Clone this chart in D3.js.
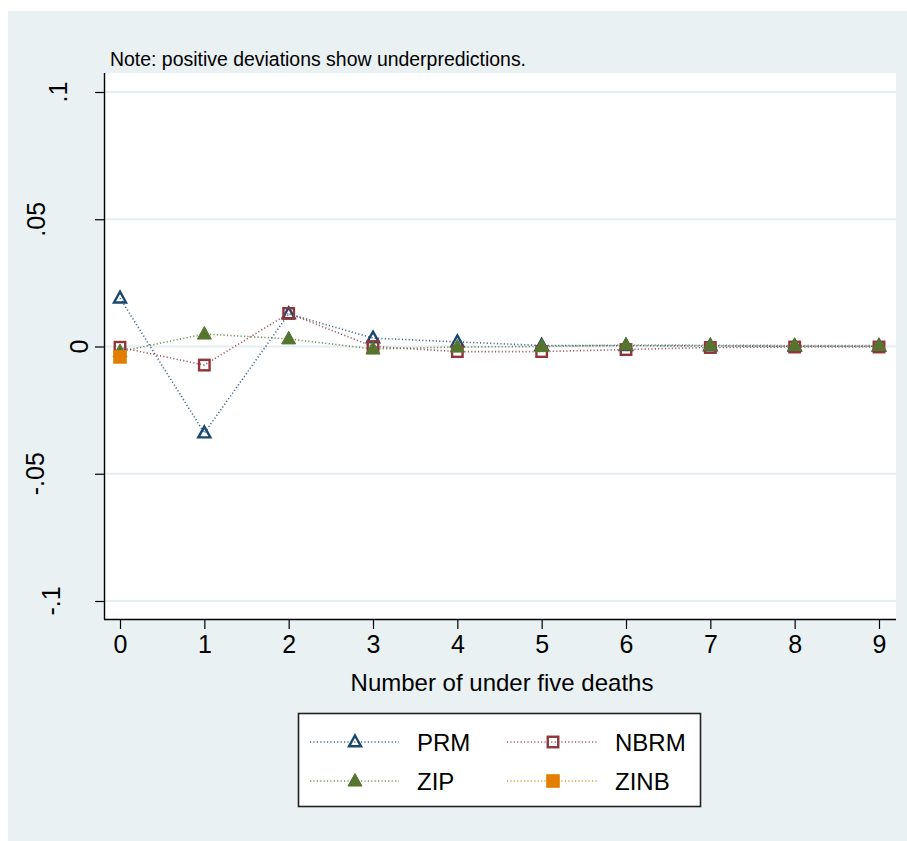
<!DOCTYPE html>
<html>
<head>
<meta charset="utf-8">
<script src="https://cdn.jsdelivr.net/npm/d3@7"></script>
<style>
  html, body { margin: 0; padding: 0; background: #ffffff; }
  svg { display: block; font-family: "Liberation Sans", Arial, Helvetica, sans-serif; }
</style>
</head>
<body>
<svg id="chart" width="907" height="841"></svg>
<script>
// ---------------- data ----------------
const counts = [0, 1, 2, 3, 4, 5, 6, 7, 8, 9];
const prm  = [0.0190, -0.0340, 0.0128, 0.0033, 0.0018, 0.0004, 0.0003, 0.0002, 0.0001, 0.0001];
const nbrm = [-0.0003, -0.0073, 0.0130, 0.0000, -0.0020, -0.0020, -0.0012, -0.0004, -0.0002, -0.0002];
const zip  = [-0.0020, 0.0049, 0.0030, -0.0010, -0.0002, 0.0000, 0.0006, 0.0005, 0.0004, 0.0004];
const zinb = [-0.0041, null, null, null, null, null, null, null, null, null];
const seriesNames = ["PRM", "NBRM", "ZIP", "ZINB"];
const yTickValues = [-0.1, -0.05, 0, 0.05, 0.1];
const yTickLabels = ["-.1", "-.05", "0", ".05", ".1"];
const xTickValues = [0, 1, 2, 3, 4, 5, 6, 7, 8, 9];
const xTitle = "Number of under five deaths";
const noteText = "Note: positive deviations show underpredictions.";

// ---------------- layout / style ----------------
const W = 907, H = 841;
const bg = "#e9f1f3";
const plot = { left: 104, right: 896, top: 73, bottom: 619 };
const font = "Liberation Sans, Arial, Helvetica, sans-serif";
// baseline x of each rotated y tick label
const yLabelBaseline = { "-.1": 60, "-.05": 44, "0": 88, ".05": 45, ".1": 67 };

const styles = {
  PRM:  { color: "#1a476f", marker: "triangle", fill: "none" },
  NBRM: { color: "#90353b", marker: "square",   fill: "none" },
  ZIP:  { color: "#55752f", marker: "triangle", fill: "#55752f" },
  ZINB: { color: "#e37e00", marker: "square",   fill: "#e37e00" }
};
const seriesValues = { PRM: prm, NBRM: nbrm, ZIP: zip, ZINB: zinb };

const svg = d3.select("#chart");

// background
svg.append("rect").attr("x", 8).attr("y", 11).attr("width", W - 8).attr("height", H - 11).attr("fill", bg);
svg.append("rect").attr("x", plot.left).attr("y", plot.top)
  .attr("width", plot.right - plot.left).attr("height", plot.bottom - plot.top).attr("fill", "#ffffff");

const x = d3.scaleLinear().domain([0, 9]).range([120, 879]);
const y = d3.scaleLinear().domain([-0.1, 0.1]).range([601, 92]);

// gridlines
svg.append("g").selectAll("line").data(yTickValues).join("line")
  .attr("x1", plot.left).attr("x2", plot.right)
  .attr("y1", d => y(d)).attr("y2", d => y(d))
  .attr("stroke", "#e6eef1").attr("stroke-width", 2);

// y axis
const yAxis = d3.axisLeft(y).tickValues(yTickValues).tickSize(9).tickFormat("");
const gy = svg.append("g").attr("transform", `translate(${plot.left},0)`).call(yAxis);
gy.select(".domain").attr("d", `M0.5,${plot.top}V${plot.bottom + 0.5}`).attr("stroke", "#000").attr("stroke-width", 1.4);
gy.selectAll(".tick line").attr("stroke", "#000").attr("stroke-width", 1.2);
svg.append("g").selectAll("text").data(yTickValues).join("text")
  .attr("transform", (d, i) => `translate(${yLabelBaseline[yTickLabels[i]]},${y(d)}) rotate(-90)`)
  .attr("text-anchor", "middle")
  .attr("font-size", 25).attr("font-family", font).attr("fill", "#000")
  .text((d, i) => yTickLabels[i]);

// x axis
const xAxis = d3.axisBottom(x).tickValues(xTickValues).tickSize(10).tickPadding(6).tickFormat(d3.format("d"));
const gx = svg.append("g").attr("transform", `translate(0,${plot.bottom})`).call(xAxis);
gx.select(".domain").attr("d", `M${plot.left},0.5H${plot.right}`).attr("stroke", "#000").attr("stroke-width", 1.4);
gx.selectAll(".tick line").attr("stroke", "#000").attr("stroke-width", 1.2);
gx.selectAll(".tick text").attr("font-size", 25).attr("font-family", font).attr("fill", "#000")
  .attr("dy", "0.72em");

// axis title
svg.append("text").attr("x", (plot.left + plot.right) / 2 + 2).attr("y", 691)
  .attr("text-anchor", "middle").attr("font-size", 24).attr("font-family", font).text(xTitle);

// note
svg.append("text").attr("x", 110).attr("y", 66)
  .attr("font-size", 20.5).attr("font-family", font)
  .attr("textLength", 416).attr("lengthAdjust", "spacingAndGlyphs").text(noteText);

// marker drawing
function drawMarker(g, type, color, fill) {
  if (type === "triangle") {
    const s = fill === "none" ? 12 : 14;
    const h = s * 0.9;
    g.append("path")
      .attr("d", `M0,${-h * 0.6}L${s / 2},${h * 0.4}L${-s / 2},${h * 0.4}Z`)
      .attr("fill", fill).attr("stroke", color).attr("stroke-width", fill === "none" ? 2.4 : 1)
      .attr("stroke-linejoin", "miter");
  } else {
    const s = fill === "none" ? 10.5 : 12.5;
    g.append("rect").attr("x", -s / 2).attr("y", -s / 2).attr("width", s).attr("height", s)
      .attr("fill", fill).attr("stroke", color).attr("stroke-width", fill === "none" ? 2.4 : 1);
  }
}

const line = d3.line().defined(d => d[1] !== null).x(d => x(d[0])).y(d => y(d[1]));

seriesNames.forEach(name => {
  const st = styles[name];
  const pts = counts.map((c, i) => [c, seriesValues[name][i]]);
  svg.append("path").datum(pts).attr("d", line)
    .attr("fill", "none").attr("stroke", st.color).attr("stroke-width", 1.6)
    .attr("stroke-dasharray", "1.2,2.2").attr("stroke-opacity", 0.8);
  pts.filter(p => p[1] !== null).forEach(p => {
    const g = svg.append("g").attr("transform", `translate(${x(p[0])},${y(p[1])})`);
    drawMarker(g, st.marker, st.color, st.fill);
  });
});

// legend
const leg = svg.append("g");
leg.append("rect").attr("x", 298.5).attr("y", 713.5).attr("width", 402).attr("height", 93)
  .attr("fill", "#ffffff").attr("stroke", "#222").attr("stroke-width", 1.6);
const legCols = [{ lx1: 310, lx2: 399, mx: 355, tx: 417 }, { lx1: 507, lx2: 597, mx: 553, tx: 615 }];
const legRows = [742, 781];
seriesNames.forEach((name, i) => {
  const st = styles[name];
  const c = legCols[i % 2], r = legRows[Math.floor(i / 2)];
  leg.append("line").attr("x1", c.lx1).attr("x2", c.lx2).attr("y1", r).attr("y2", r)
    .attr("stroke", st.color).attr("stroke-width", 1.6).attr("stroke-dasharray", "1.2,2.2").attr("stroke-opacity", 0.8);
  const g = leg.append("g").attr("transform", `translate(${c.mx},${r})`);
  drawMarker(g, st.marker, st.color, st.fill);
  leg.append("text").attr("x", c.tx).attr("y", r + 9).attr("font-size", 24).attr("font-family", font).text(name);
});
</script>
</body>
</html>
